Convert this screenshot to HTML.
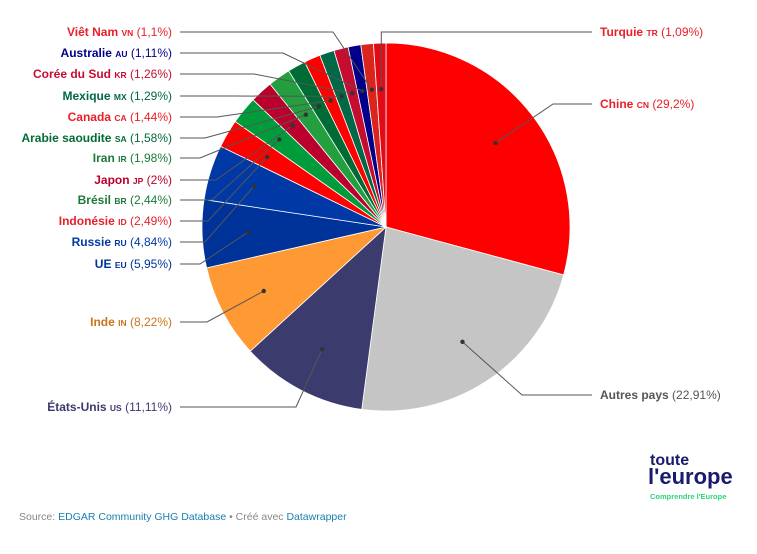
<!DOCTYPE html>
<html><head><meta charset="utf-8"><style>
body{margin:0;background:#fff;width:757px;height:554px;overflow:hidden;font-family:"Liberation Sans",Arial,sans-serif}
svg{position:absolute;left:0;top:0}
</style></head><body>
<svg id="s" width="757" height="554" xmlns="http://www.w3.org/2000/svg" font-family="Liberation Sans, Arial, sans-serif"></svg>
<script>
var cx=386,cy=227,r=184;
var d=[
["Chine","CN","29,2%",29.2,"#ff0000","#e8202a"],
["Autres pays","","22,91%",22.91,"#c5c5c5","#555"],
["États-Unis","US","11,11%",11.11,"#3c3b6e","#3c3b6e"],
["Inde","IN","8,22%",8.22,"#ff9933","#c8741c"],
["UE","EU","5,95%",5.95,"#003399","#003399"],
["Russie","RU","4,84%",4.84,"#0039a6","#0039a6"],
["Indonésie","ID","2,49%",2.49,"#ff0000","#e8202a"],
["Brésil","BR","2,44%",2.44,"#009c3b","#1a7a3a"],
["Japon","JP","2%",2,"#bc002d","#bc002d"],
["Iran","IR","1,98%",1.98,"#239f40","#1a7a3a"],
["Arabie saoudite","SA","1,58%",1.58,"#006c35","#006c35"],
["Canada","CA","1,44%",1.44,"#ff0000","#e8202a"],
["Mexique","MX","1,29%",1.29,"#006847","#006847"],
["Corée du Sud","KR","1,26%",1.26,"#c60c30","#c60c30"],
["Australie","AU","1,11%",1.11,"#00008b","#00008b"],
["Viêt Nam","VN","1,1%",1.1,"#da251d","#e8202a"],
["Turquie","TR","1,09%",1.09,"#e30a17","#e8202a"]];
var lab={"Chine":[600,104,553,'r'],"Autres pays":[600,395,522,'r'],"Turquie":[600,32,381,'t'],
"États-Unis":[180,407,296],"Inde":[180,322,207],"UE":[180,264,200],"Russie":[180,242,205],"Indonésie":[180,221,208],
"Brésil":[180,200,212],"Japon":[180,180,216],"Iran":[180,158,200],"Arabie saoudite":[180,138,205],"Canada":[180,117,217],
"Mexique":[180,96,233],"Corée du Sud":[180,74,254],"Australie":[180,53,283],"Viêt Nam":[180,32,333]};
var h='',a0=-Math.PI/2,lines='',dots='',txt='';
d.forEach(function(e){var a1=a0+e[3]/100.01*2*Math.PI;
var x0=cx+r*Math.cos(a0),y0=cy+r*Math.sin(a0),x1=cx+r*Math.cos(a1),y1=cy+r*Math.sin(a1);
h+='<path d="M'+cx+','+cy+'L'+x0+','+y0+'A'+r+','+r+' 0 '+((a1-a0)>Math.PI?1:0)+' 1 '+x1+','+y1+'Z" fill="'+e[4]+'" stroke="#fff" stroke-width="0.8"/>';
var m=(a0+a1)/2,dx=cx+0.75*r*Math.cos(m),dy=cy+0.75*r*Math.sin(m);
var L=lab[e[0]];
if(L[3]=='t'){lines+='<polyline points="'+dx+','+dy+' '+dx+','+L[1]+' '+(L[0]-8)+','+L[1]+'" fill="none" stroke="#555" stroke-width="1"/>';}
else if(L[3]=='r'){lines+='<polyline points="'+dx+','+dy+' '+L[2]+','+L[1]+' '+(L[0]-8)+','+L[1]+'" fill="none" stroke="#555" stroke-width="1"/>';}
else{lines+='<polyline points="'+L[0]+','+L[1]+' '+L[2]+','+L[1]+' '+dx+','+dy+'" fill="none" stroke="#555" stroke-width="1"/>';}
dots+='<circle cx="'+dx+'" cy="'+dy+'" r="2.2" fill="#333"/>';
var code=e[1]?' <tspan font-size="8.5" font-weight="bold">'+e[1]+'</tspan>':'';
var t='<tspan font-weight="bold">'+e[0]+'</tspan>'+code+' <tspan>('+e[2]+')</tspan>';
if(L[3]) txt+='<text x="'+L[0]+'" y="'+(L[1]+4)+'" font-size="12" fill="'+e[5]+'">'+t+'</text>';
else txt+='<text x="'+(L[0]-8)+'" y="'+(L[1]+4)+'" font-size="12" text-anchor="end" fill="'+e[5]+'">'+t+'</text>';
a0=a1;});
var s=document.getElementById('s');
s.innerHTML=h+lines+dots+txt+
'<text x="19" y="520" font-size="10.5" fill="#888">Source: <tspan fill="#1a7fb0">EDGAR Community GHG Database</tspan> • Créé avec <tspan fill="#1a7fb0">Datawrapper</tspan></text>'+
'<text x="650" y="465" font-size="16" font-weight="bold" fill="#1a1a6e">toute</text>'+
'<text x="648" y="484" font-size="22" font-weight="bold" fill="#1a1a6e">l\'europe</text>'+
'<text x="650" y="499" font-size="7.5" font-weight="bold" fill="#2ed47a">Comprendre l\'Europe</text>';
</script>
</body></html>
